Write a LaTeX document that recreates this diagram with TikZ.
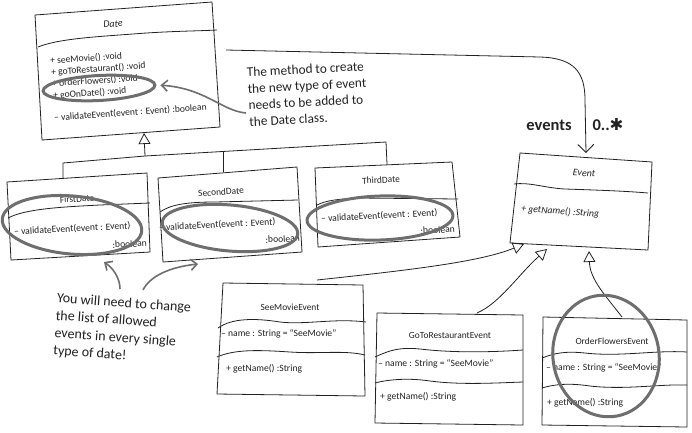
\documentclass[tikz,border=0pt]{standalone}
\usepackage{fontspec}
\setmainfont{Carlito}
\newfontfamily\symfont{DejaVu Sans}
\usetikzlibrary{arrows.meta,shapes.geometric,calc}
\definecolor{hlgray}{HTML}{6E6E6E}
\definecolor{ink}{HTML}{222222}
\tikzset{
 ln/.style={draw=ink, line width=0.8pt},
 inh/.style={ln, -{Triangle[open, length=11pt, width=12pt, line width=0.8pt]}},
 assoc/.style={ln, -{Straight Barb[length=8pt, width=16pt, line width=0.9pt]}},
 hloop/.style={draw=hlgray, line width=3pt, ellipse, inner sep=0pt},
 harrow/.style={draw=hlgray, line width=1.6pt, -{Straight Barb[length=6pt, width=11pt]}},
 uml/.style={font=\fontsize{9.6}{10}\selectfont, inner sep=0pt, text=ink},
 umli/.style={font=\fontsize{9.8}{10}\selectfont\itshape, inner sep=0pt, text=ink},
 umlt/.style={font=\fontsize{9.4}{10}\selectfont, inner sep=0pt, text=ink},
 umlti/.style={font=\fontsize{10}{10}\selectfont\itshape, inner sep=0pt, text=ink},
 note/.style={font=\fontsize{13.3}{16.5}\selectfont, align=left, inner sep=0pt, text=ink},
 lbl/.style={font=\fontsize{16.5}{17}\selectfont\bfseries, inner sep=0pt, text=ink},
}
\begin{document}
\begin{tikzpicture}[x=1pt, y=-1pt]
\fill[white] (0,0) rectangle (692,432);
\useasboundingbox (0,0) rectangle (692,432);

% ---------- Date ----------
\coordinate (dTL) at (35,15); \coordinate (dTR) at (212,2);
\coordinate (dBR) at (220,127); \coordinate (dBL) at (42,140);
\draw[ln] (dTL) -- (dTR) -- (dBR) -- (dBL) -- cycle;
\draw[ln] (38,47) .. controls (58,39) and (92,37) .. (133,34) .. controls (170,31) and (200,31) .. (217,30);
\node[umlti, rotate=4] (date) at (113,24) {Date};
\node[uml, anchor=west, rotate=4] (m1) at (50,61) {+ seeMovie() :void};
\node[uml, anchor=west, rotate=4] (m2) at (51,72.5) {+ goToRestaurant() :void};
\node[uml, anchor=west, rotate=4] (m3) at (52,84) {+ orderFlowers() :void};
\node[uml, anchor=west, rotate=4] (m4) at (53,96) {+ goOnDate() :void};
\node[uml, anchor=west, rotate=4] (m5) at (54,118) {– validateEvent(event : Event) :boolean};

% ---------- FirstDate ----------
\draw[ln] (7,182) -- (147,173) -- (150,252) -- (11,260) -- cycle;
\draw[ln] (8,218) .. controls (25,209) and (60,207) .. (100,205) -- (150,203);
\node[umlt, rotate=3] (first) at (77,199) {FirstDate};
\node[uml, anchor=west, rotate=3] (f1) at (14,232) {– validateEvent(event : Event)};
\node[uml, anchor=east, rotate=3] (f2) at (147,243) {:boolean};

% ---------- SecondDate ----------
\draw[ln] (158,178) -- (297,167) -- (302,252) -- (163,262) -- cycle;
\draw[ln] (160,212) .. controls (170,205) and (185,202) .. (215,202) -- (298,200);
\node[umlt, rotate=4] (second) at (221,192) {SecondDate};
\node[uml, anchor=west, rotate=3] (s1) at (159,228) {– validateEvent(event : Event)};
\node[uml, anchor=east, rotate=3] (s2) at (300,238) {:boolean};

% ---------- ThirdDate ----------
\draw[ln] (315,168) -- (452,162) -- (460,237) -- (318,247) -- cycle;
\draw[ln] (317,205) .. controls (325,201) and (335,199) .. (360,198) -- (458,199);
\node[umlt, rotate=3] (third) at (381,180) {ThirdDate};
\node[uml, anchor=west, rotate=3] (t1) at (321,219) {– validateEvent(event : Event)};
\node[uml, anchor=east, rotate=3] (t2) at (455,229) {:boolean};

% ---------- inheritance Date ----------
\coordinate (dB) at (144,133);
\coordinate (j0) at (145,156);
\coordinate (fdT) at (63,178); \coordinate (fdK) at (63,163);
\coordinate (sdT) at (223,172); \coordinate (sdK) at (223,151.5);
\coordinate (tdT) at (387,164); \coordinate (tdK) at (386,142);
\draw[ln] (fdT) -- (fdK) -- (j0) -- (tdK) -- (tdT);
\draw[ln] (sdT) -- (sdK);
\draw[inh] (j0) -- (dB);

% ---------- Event ----------
\draw[ln] (520,153) -- (652,162) -- (648,250) -- (510,243) -- cycle;
\draw[ln] (514,184) .. controls (530,182) and (545,188) .. (565,189) .. controls (595,190) and (625,191) .. (648,193);
\node[umlti, rotate=-4] (event) at (584,173) {Event};
\node[umli, anchor=west, rotate=-4] (e1) at (521,209) {+ getName() :String};

% ---------- SeeMovieEvent ----------
\draw[ln] (223,283) -- (363,285) -- (365,396) -- (217,394) -- cycle;
\draw[ln] (218,328) .. controls (232,318) and (255,318) .. (280,322) .. controls (305,325) and (335,318) .. (366,322);
\draw[ln] (217,357) .. controls (235,349) and (260,350) .. (290,352) .. controls (320,354) and (345,350) .. (365,355);
\node[umlt] (seemovie) at (290,307) {SeeMovieEvent};
\node[uml, anchor=west] (sm1) at (221,334) {– name : String = “SeeMovie”};
\node[uml, anchor=west] (sm2) at (226,369) {+ getName() :String};

% ---------- GoToRestaurantEvent ----------
\draw[ln] (377,313) -- (523,315) -- (523,425) -- (375,423) -- cycle;
\draw[ln] (375,357) .. controls (390,350) and (400,347) .. (420,349) .. controls (445,352) and (480,353) .. (523,350);
\draw[ln] (375,383) .. controls (390,379) and (410,378) .. (430,381) .. controls (460,385) and (495,383) .. (523,382);
\node[umlt] (gotorest) at (450,335) {GoToRestaurantEvent};
\node[uml, anchor=west] (gr1) at (378,364) {– name : String = “SeeMovie”};
\node[uml, anchor=west] (gr2) at (380,397) {+ getName() :String};

% ---------- OrderFlowersEvent ----------
\draw[ln] (543,317) -- (687,320) -- (687,427) -- (542,425) -- cycle;
\draw[ln] (542,358) .. controls (555,353) and (565,351) .. (585,353) .. controls (620,357) and (655,350) .. (687,352);
\draw[ln] (542,388) .. controls (555,384) and (570,383) .. (590,386) .. controls (625,390) and (660,384) .. (687,385);
\node[umlt] (orderfl) at (612,341) {OrderFlowersEvent};
\node[uml, anchor=west] (of1) at (546,368) {– name : String = “SeeMovie”};
\node[uml, anchor=west] (of2) at (547,403) {+ getName() :String};

% ---------- association Date -> Event ----------
\coordinate (dE) at (226,50); \coordinate (eT) at (586,153);
\draw[assoc] (dE) -- (540,57) .. controls (574,58) and (585,72) .. (585,100) -- (eT);
\node[lbl] (lab1) at (549,125) {events};
\node[lbl] (lab2) at (608,125) {0..{\symfont ✱}};

% ---------- inheritance Event ----------
\coordinate (smA) at (317,280); \coordinate (eB1) at (524,244);
\coordinate (grA) at (477,313); \coordinate (eB2) at (547,249);
\coordinate (ofA) at (622,317); \coordinate (eB3) at (589,251);
\draw[inh] (smA) .. controls (410,270) and (480,262) .. (eB1);
\draw[inh] (grA) .. controls (500,303) and (518,275) .. (eB2);
\draw[inh] (ofA) .. controls (606,296) and (590,280) .. (eB3);

% ---------- highlight loops ----------
\node[hloop, minimum width=112pt, minimum height=25pt, rotate=3] (o1) at (99,88) {};
\node[hloop, minimum width=140pt, minimum height=58pt, rotate=-5] (o2) at (72,225) {};
\node[hloop, minimum width=136pt, minimum height=46pt, rotate=-5] (o3) at (230,228) {};
\node[hloop, minimum width=146pt, minimum height=44pt, rotate=2] (o4) at (380,218) {};
\node[hloop, minimum width=106pt, minimum height=122pt, rotate=10] (o5) at (606,356) {};

% ---------- notes ----------
\node[note, anchor=west, rotate=3] (n1) at (248,97) {The method to create\\the new type of event\\needs to be added to\\the Date class.};
\coordinate (n1a) at (246,113);
\draw[harrow, shorten >=4pt] (n1a) .. controls (222,111) and (205,88) .. (o1.east);

\node[note, font=\fontsize{14}{17.5}\selectfont, anchor=west, rotate=-4] (n2) at (55,325) {You will need to change\\the list of allowed\\events in every single\\type of date!};
\coordinate (n2a) at (120,289); \coordinate (fdP) at (104,262);
\coordinate (n2b) at (143,290); \coordinate (sdP) at (198,264);
\draw[harrow] (n2a) .. controls (120,278) and (113,268) .. (fdP);
\draw[harrow] (n2b) .. controls (150,276) and (170,267) .. (sdP);
\end{tikzpicture}
\end{document}
